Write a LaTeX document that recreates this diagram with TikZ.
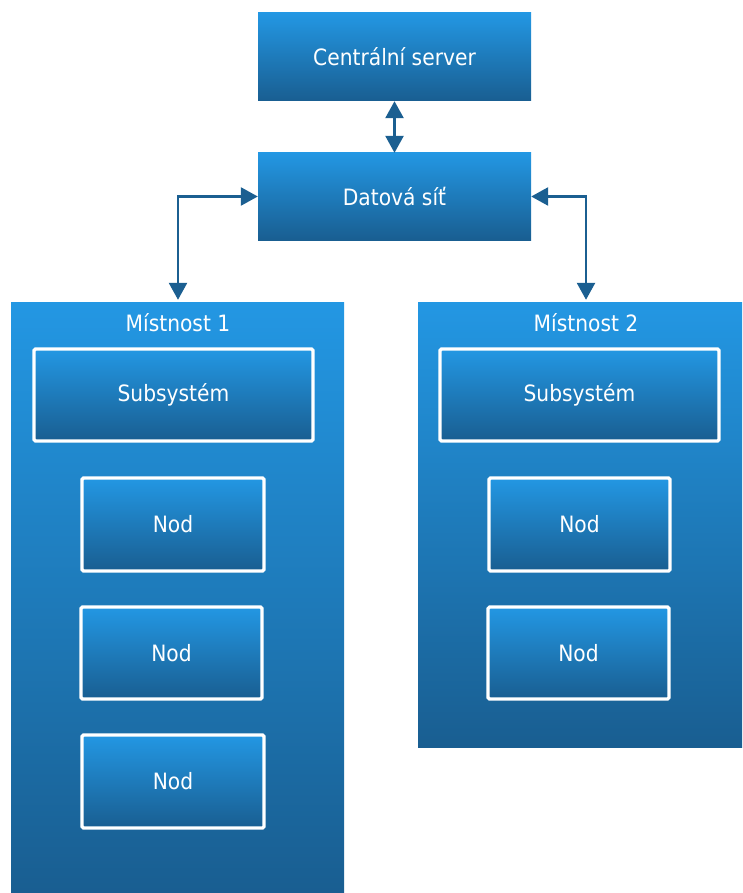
\documentclass[tikz,border=0pt]{standalone}
\usepackage{fontspec}
\setmainfont{DejaVu Sans Condensed}
\usetikzlibrary{arrows.meta,calc}
\definecolor{bluetop}{RGB}{35,151,227}
\definecolor{bluebot}{RGB}{25,94,145}
\definecolor{linkblue}{RGB}{27,95,145}
\tikzset{
  blk/.style={shade, top color=bluetop, bottom color=bluebot, draw=none,
    text=white, font=\fontsize{22.5}{26}\selectfont, inner sep=0pt},
  inbox/.style={blk, draw=white, line width=3.2pt, rounded corners=1.5pt},
  room/.style={shade, top color=bluetop, bottom color=bluebot, draw=none, inner sep=0pt},
  roomtitle/.style={text=white, font=\fontsize{22.5}{26}\selectfont, inner sep=0pt},
  link/.style={draw=linkblue, line width=2.6pt,
    {Triangle[length=17pt,width=18pt]}-{Triangle[length=17pt,width=18pt]}},
}
\begin{document}
\begin{tikzpicture}[x=1pt,y=-1pt]
\useasboundingbox (0,0) rectangle (742,893);
% top level
\node[blk, minimum width=273pt, minimum height=88pt] (central) at (394.5,57) {Centrální server};
\node[blk, minimum width=273pt, minimum height=87pt] (net) at (394.5,196.5) {Datová síť};
% rooms
\node[room, minimum width=333pt, minimum height=591pt] (room1) at (177.5,597.5) {};
\node[room, minimum width=324pt, minimum height=445pt] (room2) at (580,524.5) {};
\node[roomtitle] (title1) at (178,323) {Místnost 1};
\node[roomtitle] (title2) at (586,323) {Místnost 2};
% room 1 contents
\node[inbox, minimum width=279pt, minimum height=92pt] (sub1) at (173.5,395) {Subsystém};
\node[inbox, minimum width=182pt, minimum height=93pt] (nod1a) at (173,524.5) {Nod};
\node[inbox, minimum width=181pt, minimum height=92pt] (nod1b) at (171.5,653) {Nod};
\node[inbox, minimum width=182pt, minimum height=93pt] (nod1c) at (173,781.5) {Nod};
% room 2 contents
\node[inbox, minimum width=279pt, minimum height=92pt] (sub2) at (579.5,395) {Subsystém};
\node[inbox, minimum width=181pt, minimum height=93pt] (nod2a) at (579.5,524.5) {Nod};
\node[inbox, minimum width=181pt, minimum height=92pt] (nod2b) at (578.5,653) {Nod};
% connectors
\coordinate (in1) at ($(title1.center |- room1.north)+(0,-2)$);
\coordinate (in2) at ($(title2.center |- room2.north)+(0,-2)$);
\draw[link] (central.south) -- (net.north);
\draw[link] (net.west) -| (in1);
\draw[link] (net.east) -| (in2);
\end{tikzpicture}
\end{document}
